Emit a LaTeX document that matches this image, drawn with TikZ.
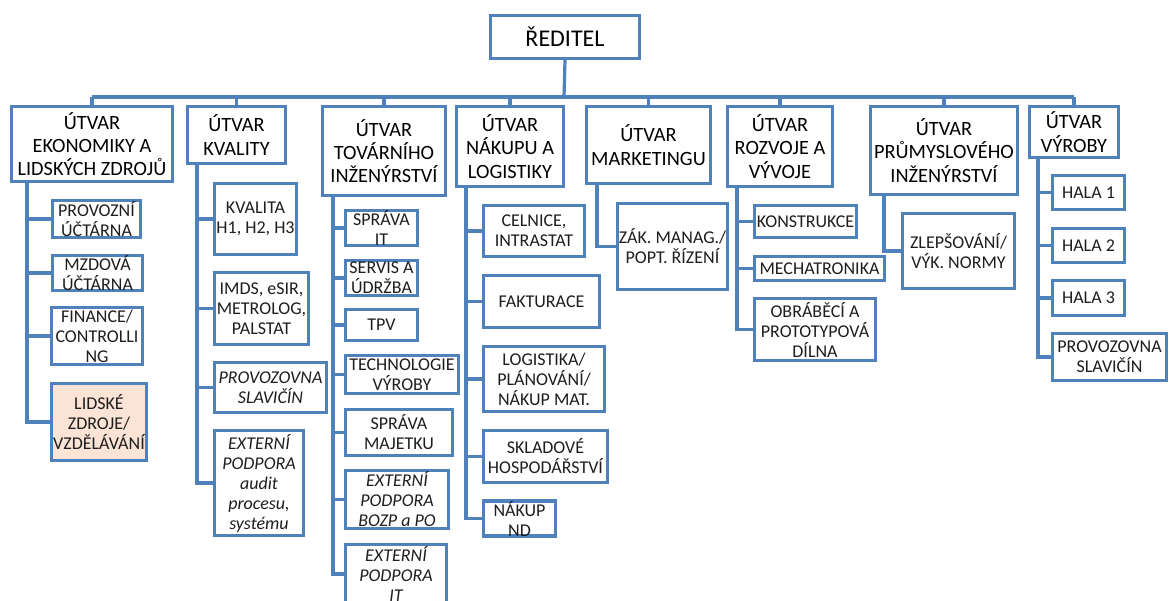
\documentclass[tikz,border=0pt]{standalone}
\usepackage{fontspec}
\setmainfont{Carlito}
\definecolor{ln}{HTML}{4F81BD}
\definecolor{txt}{HTML}{1E1E1E}
\definecolor{peach}{HTML}{FBE4D5}
\newcommand\obox[7]{%
  \node[#6, minimum width={(#4-#2-3.2)*1pt}, minimum height={(#5-#3-3.2)*1pt}] (#1) at ({(#2+#4)/2},{(#3+#5)/2}) {#7};}
\begin{document}
\begin{tikzpicture}[x=1pt,y=-1pt,
  box/.style={draw=ln, line width=3.2pt, fill=white, inner sep=0pt, align=center, text=txt},
  rootbox/.style={box, text=black, font=\fontsize{24}{28}\selectfont},
  lvl/.style={box, text=black, font=\fontsize{20.3}{23.3}\selectfont},
  sub/.style={box, font=\fontsize{18}{20}\selectfont},
  subit/.style={box, font=\fontsize{18}{20}\selectfont\itshape},
  conn/.style={draw=ln, line width=3.2pt}]
\useasboundingbox[fill=white] (0,0) rectangle (1169,601);

% root and level 1
\obox{root}{489}{14}{641}{60}{rootbox}{ŘEDITEL}
\obox{u1}{10}{105}{174}{183}{lvl}{ÚTVAR\\EKONOMIKY A\\LIDSKÝCH ZDROJŮ}
\obox{u2}{186}{105}{287}{165}{lvl}{ÚTVAR\\KVALITY}
\obox{u3}{321}{105}{447}{197}{lvl}{ÚTVAR\\TOVÁRNÍHO\\INŽENÝRSTVÍ}
\obox{u4}{455}{105}{565}{188}{lvl}{ÚTVAR\\NÁKUPU A\\LOGISTIKY}
\obox{u5}{585}{105}{712}{185}{lvl}{ÚTVAR\\MARKETINGU}
\obox{u6}{726}{105}{834}{188}{lvl}{ÚTVAR\\ROZVOJE A\\VÝVOJE}
\obox{u7}{869}{105}{1019}{196}{lvl}{ÚTVAR\\PRŮMYSLOVÉHO\\INŽENÝRSTVÍ}
\obox{u8}{1028}{105}{1120}{159}{lvl}{ÚTVAR\\VÝROBY}

% column 1
\obox{c11}{51}{199}{142}{239}{sub}{PROVOZNÍ\\ÚČTÁRNA}
\obox{c12}{51}{254}{144}{292}{sub}{MZDOVÁ\\ÚČTÁRNA}
\obox{c13}{50}{306}{144}{366}{sub}{FINANCE/\\CONTROLLI\\NG}
\obox{c14}{50}{382}{148}{462}{sub,fill=peach}{LIDSKÉ\\ZDROJE/\\VZDĚLÁVÁNÍ}
% column 2
\obox{c21}{213}{182}{298}{256}{sub}{KVALITA\\H1, H2, H3}
\obox{c22}{213}{271}{310}{346}{sub}{IMDS, eSIR,\\METROLOG,\\PALSTAT}
\obox{c23}{213}{361}{328}{414}{subit}{PROVOZOVNA\\SLAVIČÍN}
\obox{c24}{213}{429}{305}{537}{subit}{EXTERNÍ\\PODPORA\\audit\\procesu,\\systému}
% column 3
\obox{c31}{344}{209}{419}{247}{sub}{SPRÁVA\\IT}
\obox{c32}{344}{259}{419}{297}{sub}{SERVIS A\\ÚDRŽBA}
\obox{c33}{344}{308}{419}{342}{sub}{TPV}
\obox{c34}{344}{354}{460}{395}{sub}{TECHNOLOGIE\\VÝROBY}
\obox{c35}{344}{408}{454}{457}{sub}{SPRÁVA\\MAJETKU}
\obox{c36}{344}{469}{450}{530}{subit}{EXTERNÍ\\PODPORA\\BOZP a PO}
\obox{c37}{344}{543}{448}{605}{subit}{EXTERNÍ\\PODPORA\\IT}
% column 4
\obox{c41}{482}{204}{586}{258}{sub}{CELNICE,\\INTRASTAT}
\obox{c42}{482}{274}{601}{329}{sub}{FAKTURACE}
\obox{c43}{482}{345}{606}{413}{sub}{LOGISTIKA/\\PLÁNOVÁNÍ/\\NÁKUP MAT.}
\obox{c44}{482}{429}{609}{484}{sub}{SKLADOVÉ\\HOSPODÁŘSTVÍ}
\obox{c45}{482}{500}{557}{537}{sub}{NÁKUP\\ND}
% column 5
\obox{c51}{616}{202}{729}{291}{sub}{ZÁK. MANAG./\\POPT. ŘÍZENÍ}
% column 6
\obox{c61}{753}{204}{858}{239}{sub}{KONSTRUKCE}
\obox{c62}{753}{255}{886}{282}{sub}{MECHATRONIKA}
\obox{c63}{753}{297}{877}{362}{sub}{OBRÁBĚCÍ A\\PROTOTYPOVÁ\\DÍLNA}
% column 7
\obox{c71}{901}{212}{1016}{290}{sub}{ZLEPŠOVÁNÍ/\\VÝK. NORMY}
% column 8
\obox{c81}{1051}{174}{1126}{211}{sub}{HALA 1}
\obox{c82}{1051}{227}{1126}{264}{sub}{HALA 2}
\obox{c83}{1051}{279}{1126}{317}{sub}{HALA 3}
\obox{c84}{1051}{332}{1168}{382}{sub}{PROVOZOVNA\\SLAVIČÍN}

% bus
\coordinate (bus) at (564,97);
\draw[conn] (root.south) -- (bus);
\draw[conn] (bus -| u1.north) -- (bus -| u8.north);
\foreach \u in {u1,u2,u3,u4,u5,u6,u7,u8}
  \draw[conn] (\u.north) -- (bus -| \u.north);

% trunks
\coordinate (t1) at (27,0);
\coordinate (t2) at (197,0);
\coordinate (t3) at (333,0);
\coordinate (t4) at (466,0);
\coordinate (t5) at (597,0);
\coordinate (t6) at (737,0);
\coordinate (t7) at (884,0);
\coordinate (t8) at (1038,0);

\draw[conn] (t1 |- u1.south) -- (t1 |- c14.west) -- (c14.west);
\foreach \c in {c11,c12,c13} \draw[conn] (t1 |- \c.west) -- (\c.west);
\draw[conn] (t2 |- u2.south) -- (t2 |- c24.west) -- (c24.west);
\foreach \c in {c21,c22,c23} \draw[conn] (t2 |- \c.west) -- (\c.west);
\draw[conn] (t3 |- u3.south) -- (t3 |- c37.west) -- (c37.west);
\foreach \c in {c31,c32,c33,c34,c35,c36} \draw[conn] (t3 |- \c.west) -- (\c.west);
\draw[conn] (t4 |- u4.south) -- (t4 |- c45.west) -- (c45.west);
\foreach \c in {c41,c42,c43,c44} \draw[conn] (t4 |- \c.west) -- (\c.west);
\draw[conn] (t5 |- u5.south) -- (t5 |- c51.west) -- (c51.west);
\draw[conn] (t6 |- u6.south) -- (t6 |- c63.west) -- (c63.west);
\foreach \c in {c61,c62} \draw[conn] (t6 |- \c.west) -- (\c.west);
\draw[conn] (t7 |- u7.south) -- (t7 |- c71.west) -- (c71.west);
\draw[conn] (t8 |- u8.south) -- (t8 |- c84.west) -- (c84.west);
\foreach \c in {c81,c82,c83} \draw[conn] (t8 |- \c.west) -- (\c.west);
\end{tikzpicture}
\end{document}
